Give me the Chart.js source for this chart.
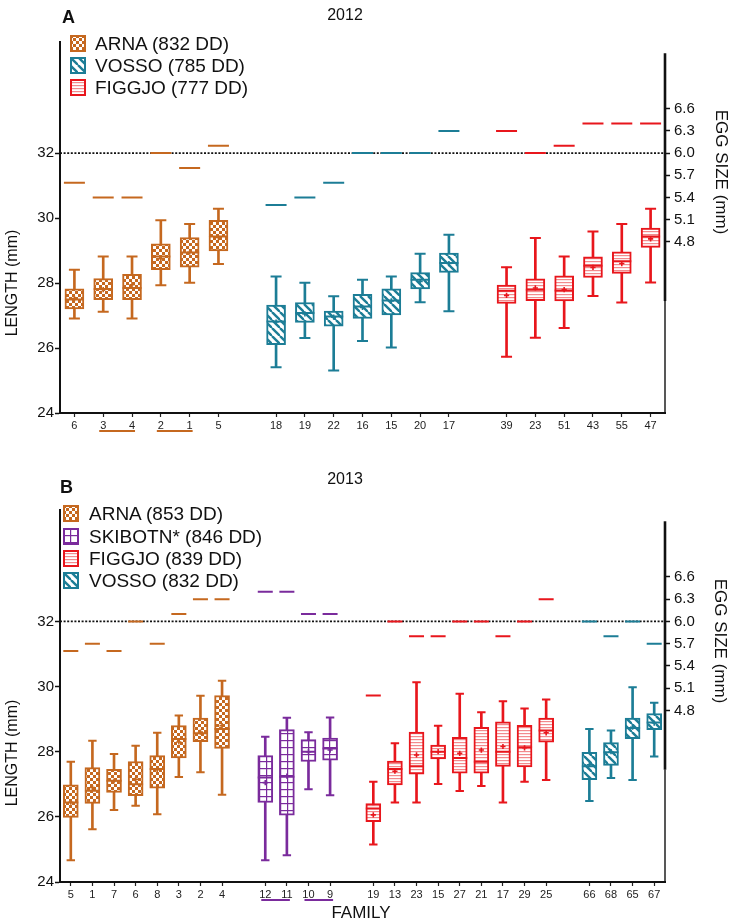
<!DOCTYPE html>
<html>
<head>
<meta charset="utf-8">
<script src="https://cdn.jsdelivr.net/npm/chart.js@4.4.1/dist/chart.umd.min.js"></script>
<style>
  html,body{margin:0;padding:0;background:#fff;}
  body{width:735px;height:923px;position:relative;overflow:hidden;font-family:"Liberation Sans",Arial,sans-serif;color:#111;}
  canvas.chart{position:absolute;left:0;}
  .t{position:absolute;white-space:nowrap;line-height:1;}
  .rot{position:absolute;white-space:nowrap;line-height:1;transform:translate(-50%,-50%) rotate(-90deg);}
  .rotR{position:absolute;white-space:nowrap;line-height:1;transform:translate(-50%,-50%) rotate(90deg);}
  .leg{position:absolute;display:flex;align-items:center;white-space:nowrap;line-height:1;}
  .leg canvas{margin-right:9px;}
</style>
</head>
<body>
<canvas id="cA" class="chart" width="735" height="440" style="top:0"></canvas>
<canvas id="cB" class="chart" width="735" height="463" style="top:460px"></canvas>

<div class="t" style="left:62px;top:8px;font-weight:bold;font-size:18px;">A</div>
<div class="t" style="left:345px;top:7px;font-size:16px;transform:translateX(-50%);">2012</div>
<div class="t" style="left:60px;top:478px;font-weight:bold;font-size:18px;">B</div>
<div class="t" style="left:345px;top:471px;font-size:16px;transform:translateX(-50%);">2013</div>
<div class="rot" style="left:12px;top:283px;font-size:16px;">LENGTH (mm)</div>
<div class="rot" style="left:12px;top:753px;font-size:16px;">LENGTH (mm)</div>
<div class="rotR" style="left:721px;top:172px;font-size:17px;">EGG SIZE (mm)</div>
<div class="rotR" style="left:720px;top:641px;font-size:17px;">EGG SIZE (mm)</div>
<div class="t" style="left:361px;top:904px;font-size:17px;transform:translateX(-50%);">FAMILY</div>
<div id="legends"></div>

<script>
// ---------------- DATA ----------------
// Panel A (2012)
const a_families = ['6','3','4','2','1','5','', '18','19','22','16','15','20','17','', '39','23','51','43','55','47'];
const a_groups   = ['ARNA','ARNA','ARNA','ARNA','ARNA','ARNA',null,'VOSSO','VOSSO','VOSSO','VOSSO','VOSSO','VOSSO','VOSSO',null,'FIGGJO','FIGGJO','FIGGJO','FIGGJO','FIGGJO','FIGGJO'];
const a_min    = [26.91,27.12,26.91,27.93,28.01,28.59,null,25.41,26.31,25.31,26.22,26.02,27.41,27.13,null,25.73,26.32,26.62,27.60,27.40,28.02];
const a_q1     = [27.20,27.49,27.49,28.41,28.49,28.99,null,26.10,26.79,26.67,26.91,27.02,27.82,28.33,null,27.37,27.46,27.45,28.17,28.30,29.10];
const a_median = [27.49,27.82,27.85,28.82,28.94,29.43,null,26.82,27.08,26.97,27.28,27.46,28.10,28.62,null,27.76,27.79,27.77,28.53,28.67,29.43];
const a_q3     = [27.82,28.14,28.27,29.21,29.40,29.93,null,27.32,27.40,27.14,27.65,27.82,28.32,28.92,null,27.94,28.13,28.22,28.81,28.96,29.69];
const a_max    = [28.41,28.82,28.82,29.93,29.82,30.29,null,28.20,28.01,27.59,28.10,28.20,28.90,29.49,null,28.49,29.39,28.82,29.59,29.82,30.29];
const a_mean   = [27.52,27.80,27.95,28.75,28.95,29.40,null,26.80,27.05,26.95,27.25,27.45,28.05,28.60,null,27.62,27.85,27.80,28.48,28.60,29.36];
const a_egg    = [5.6,5.4,5.4,6.0,5.8,6.1,null,5.3,5.4,5.6,6.0,6.0,6.0,6.3,null,6.3,6.0,6.1,6.4,6.4,6.4];
const a_underlines = [['3','4'],['2','1']];
const a_legend = [['ARNA','ARNA (832 DD)'],['VOSSO','VOSSO (785 DD)'],['FIGGJO','FIGGJO (777 DD)']];

// Panel B (2013)
const b_families = ['5','1','7','6','8','3','2','4','', '12','11','10','9','', '19','13','23','15','27','21','17','29','25','', '66','68','65','67'];
const b_groups   = ['ARNA','ARNA','ARNA','ARNA','ARNA','ARNA','ARNA','ARNA',null,'SKIBOTN','SKIBOTN','SKIBOTN','SKIBOTN',null,'FIGGJO','FIGGJO','FIGGJO','FIGGJO','FIGGJO','FIGGJO','FIGGJO','FIGGJO','FIGGJO',null,'VOSSO','VOSSO','VOSSO','VOSSO'];
const b_min    = [24.67,25.62,26.21,26.34,26.08,27.22,27.37,26.68,null,24.67,24.82,26.85,26.66,null,25.15,26.44,26.44,27.01,26.79,26.95,26.44,27.08,27.13,null,26.49,27.19,27.13,27.85];
const b_q1     = [25.98,26.41,26.75,26.65,26.88,27.81,28.31,28.10,null,26.44,26.05,27.70,27.74,null,25.85,26.98,27.31,27.78,27.34,27.34,27.55,27.53,28.29,null,27.14,27.58,28.40,28.68];
const b_median = [26.44,26.80,27.11,27.00,27.47,28.39,28.57,28.70,null,27.21,27.23,28.00,28.10,null,26.26,27.47,27.55,28.00,27.81,27.69,28.00,28.14,28.65,null,27.55,27.98,28.73,28.90];
const b_q3     = [26.98,27.51,27.46,27.70,27.88,28.80,29.03,29.72,null,27.88,28.68,28.37,28.42,null,26.41,27.71,28.60,28.20,28.44,28.75,28.92,28.81,29.03,null,27.98,28.28,29.03,29.17];
const b_max    = [27.69,28.34,27.93,28.18,28.58,29.11,29.72,30.18,null,28.46,29.04,28.60,29.05,null,27.08,28.26,30.13,28.80,29.78,29.21,29.55,29.33,29.60,null,28.70,28.65,29.98,29.50];
const b_mean   = [26.45,26.90,27.10,27.15,27.45,28.30,28.60,28.80,null,27.05,27.25,28.00,28.05,null,26.06,27.40,27.90,28.00,27.95,28.05,28.16,28.12,28.58,null,27.60,28.00,28.75,28.88];
const b_egg    = [5.6,5.7,5.6,6.0,5.7,6.1,6.3,6.3,null,6.4,6.4,6.1,6.1,null,5.0,6.0,5.8,5.8,6.0,6.0,5.8,6.0,6.3,null,6.0,5.8,6.0,5.7];
const b_underlines = [['12','11'],['10','9']];
const b_legend = [['ARNA','ARNA (853 DD)'],['SKIBOTN','SKIBOTN* (846 DD)'],['FIGGJO','FIGGJO (839 DD)'],['VOSSO','VOSSO (832 DD)']];

// Axis ticks
const lengthTicks = [24,26,28,30,32];
const eggTicks = [4.8,5.1,5.4,5.7,6.0,6.3,6.6];
const refLength = 32;      // dotted reference line (length) == egg 6.0
const refEgg = 6.0;
const eggAxisLow = 4.0, eggAxisHigh = 7.35;

// ---------------- STYLE ----------------
const COLORS = {ARNA:'#C5681F', VOSSO:'#1C7D96', FIGGJO:'#E8161C', SKIBOTN:'#7A2B9C'};
const LIGHT  = {FIGGJO:'#F28A8D'};
const yMin = 24, yMax = 35.42;
const eggPerLen = 32.5/74;
const eggMin = refEgg - (refLength - yMin)*eggPerLen;
const eggMax = refEgg + (yMax - refLength)*eggPerLen;

Chart.defaults.font.family = '"Liberation Sans", Arial, sans-serif';
Chart.defaults.color = '#111';

function makePattern(group){
  const c = document.createElement('canvas');
  const g = c.getContext('2d');
  const col = COLORS[group];
  if(group==='ARNA'){
    c.width=6;c.height=6;
    g.fillStyle='#fff';g.fillRect(0,0,6,6);
    g.fillStyle=col;g.fillRect(0,0,3,3);g.fillRect(3,3,3,3);
  } else if(group==='VOSSO'){
    c.width=8;c.height=8;
    g.fillStyle='#fff';g.fillRect(0,0,8,8);
    g.strokeStyle=col;g.lineWidth=2.4;
    for(const o of [-8,0,8]){g.beginPath();g.moveTo(o,0);g.lineTo(o+8,8);g.stroke();}
  } else if(group==='FIGGJO'){
    c.width=4;c.height=3;
    g.fillStyle='#fff';g.fillRect(0,0,4,3);
    g.fillStyle=LIGHT.FIGGJO;g.fillRect(0,0,4,1.2);
  } else {
    c.width=7;c.height=7;
    g.fillStyle='#fff';g.fillRect(0,0,7,7);
    g.fillStyle=col;g.fillRect(0,0,7,1.2);g.fillRect(0,0,1.2,7);
  }
  return g.createPattern(c,'repeat');
}

const extrasPlugin = {
  id:'extras',
  beforeDatasetsDraw(chart){
    const {ctx, chartArea, scales} = chart;
    const y = scales.y.getPixelForValue(refLength);
    ctx.save();
    ctx.strokeStyle='#111';ctx.lineWidth=1.6;ctx.setLineDash([2,1.6]);
    ctx.beginPath();ctx.moveTo(chartArea.left,y);ctx.lineTo(chartArea.right,y);ctx.stroke();
    ctx.restore();
  },
  afterDraw(chart, args, opts){
    const {ctx, chartArea, scales} = chart;
    const x = chartArea.right;
    const yLow = scales.y2.getPixelForValue(eggAxisLow);
    const yHigh = scales.y2.getPixelForValue(eggAxisHigh);
    ctx.save();
    ctx.strokeStyle='#111';
    ctx.lineWidth=2.6;
    ctx.beginPath();ctx.moveTo(x,yHigh);ctx.lineTo(x,yLow);ctx.stroke();
    ctx.lineWidth=1.4;
    ctx.beginPath();ctx.moveTo(x,yLow);ctx.lineTo(x,chartArea.bottom+1);ctx.stroke();
    // family underlines
    const labels = chart.data.labels;
    (opts.underlines||[]).forEach(([f1,f2])=>{
      const i1 = labels.indexOf(f1), i2 = labels.indexOf(f2);
      const x1 = scales.x.getPixelForValue(i1)-4, x2 = scales.x.getPixelForValue(i2)+3;
      ctx.strokeStyle = COLORS[opts.groups[i1]];
      ctx.lineWidth = 2;
      ctx.beginPath();ctx.moveTo(x1,opts.underlineY);ctx.lineTo(x2,opts.underlineY);ctx.stroke();
    });
    ctx.restore();
  }
};

function buildChart(id, p){
  const colors = p.groups.map(g=> g? COLORS[g] : 'rgba(0,0,0,0)');
  const patterns = p.groups.map(g=> g? makePattern(g) : 'rgba(0,0,0,0)');
  const pair = (lo,hi)=> lo.map((v,i)=> v==null? null : [v, hi[i]]);
  const pointSet = (data, style, radius, width, order, axis)=>({
    type:'line', data, showLine:false, pointStyle:style, pointRadius:radius, pointHoverRadius:radius,
    pointBorderWidth:width, pointHoverBorderWidth:width, pointBorderColor:colors, pointBackgroundColor:colors,
    borderColor:colors, order, yAxisID: axis||'y'
  });
  return new Chart(document.getElementById(id), {
    type:'bar',
    data:{
      labels:p.families,
      datasets:[
        {type:'bar', data:pair(p.min,p.max), barThickness:2, backgroundColor:colors, borderWidth:0, grouped:false, order:9},
        {type:'bar', data:pair(p.q1,p.q3), barThickness:p.boxW, backgroundColor:patterns, borderColor:colors, borderWidth:2, borderSkipped:false, grouped:false, order:8},
        pointSet(p.min,'line',p.capR,2,7),
        pointSet(p.max,'line',p.capR,2,7),
        pointSet(p.median,'line',p.boxW/2,2,6),
        pointSet(p.mean,'cross',2.6,1.6,5),
        pointSet(p.egg,'line',p.eggR,2,4,'y2')
      ]
    },
    options:{
      responsive:false, animation:false, events:[],
      layout:{padding:{top:p.padTop,left:0,right:0,bottom:0}},
      plugins:{legend:{display:false}, tooltip:{enabled:false}, extras:{underlines:p.underlines, groups:p.groups, underlineY:p.underlineY}},
      scales:{
        x:{
          offset:true,
          grid:{offset:false, drawOnChartArea:false, drawTicks:true, tickLength:4, tickWidth:1.2,
                tickColor:(c)=> p.families[c.index]==='' ? 'rgba(0,0,0,0)' : '#222'},
          border:{display:true, color:'#111', width:2},
          ticks:{autoSkip:false, maxRotation:0, minRotation:0, padding:2, color:'#222',
                 font:{size:11, family:'"Liberation Sans Narrow","Liberation Sans",Arial,sans-serif'}},
          afterFit:(s)=>{ s.height = p.xH; }
        },
        y:{
          position:'left', min:yMin, max:yMax,
          afterBuildTicks:(s)=>{ s.ticks = lengthTicks.map(v=>({value:v})); },
          grid:{drawOnChartArea:false, drawTicks:true, tickLength:5, tickWidth:1.5, tickColor:'#111'},
          border:{display:true, color:'#111', width:2},
          ticks:{padding:1, font:{size:15}, color:'#111'},
          afterFit:(s)=>{ s.width = 60; }
        },
        y2:{
          position:'right', min:eggMin, max:eggMax,
          afterBuildTicks:(s)=>{ s.ticks = eggTicks.map(v=>({value:v})); },
          grid:{drawOnChartArea:false, drawTicks:true, tickLength:5, tickWidth:1.5, tickColor:'#111'},
          border:{display:false},
          ticks:{padding:4, font:{size:15}, color:'#111', callback:(v)=> Number(v).toFixed(1)},
          afterFit:(s)=>{ s.width = 70; }
        }
      }
    },
    plugins:[extrasPlugin]
  });
}

buildChart('cA', {families:a_families, groups:a_groups, min:a_min, q1:a_q1, median:a_median, q3:a_q3, max:a_max, mean:a_mean, egg:a_egg,
  underlines:a_underlines, underlineY:431, boxW:19, capR:5.5, eggR:10.5, padTop:42, xH:27});
buildChart('cB', {families:b_families, groups:b_groups, min:b_min, q1:b_q1, median:b_median, q3:b_q3, max:b_max, mean:b_mean, egg:b_egg,
  underlines:b_underlines, underlineY:440, boxW:15, capR:4.2, eggR:7.5, padTop:50, xH:41});

// Legends
function legend(items, left, centers, textLeft, size){
  const host = document.getElementById('legends');
  items.forEach(([g,label],i)=>{
    const row = document.createElement('div');
    row.className='leg';
    row.style.left = left+'px';
    row.style.top = (centers[i]-10)+'px';
    row.style.height='20px';
    row.style.fontSize = size+'px';
    const sw = document.createElement('canvas');
    sw.width=16; sw.height=17;
    sw.style.marginRight = (textLeft-left-16)+'px';
    const g2 = sw.getContext('2d');
    g2.fillStyle = makePattern(g); g2.fillRect(0,0,16,17);
    g2.strokeStyle = COLORS[g]; g2.lineWidth=2; g2.strokeRect(1,1,14,15);
    row.appendChild(sw);
    const sp = document.createElement('span'); sp.textContent = label;
    row.appendChild(sp);
    host.appendChild(row);
  });
}
legend(a_legend, 70, [43,65,87], 95, 19);
legend(b_legend, 63, [513,536,558,580], 89, 19);
</script>
</body>
</html>
